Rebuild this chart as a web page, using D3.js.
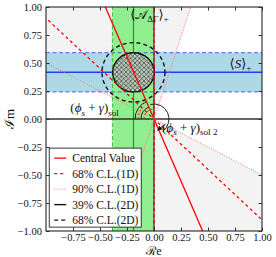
<!DOCTYPE html>
<html>
<head>
<meta charset="utf-8">
<script src="https://cdn.jsdelivr.net/npm/d3@7"></script>
<style>
  body { margin: 0; background: #fff; }
  svg text { font-family: "Liberation Serif", "DejaVu Serif", serif; fill: #111; }
</style>
</head>
<body>
<div id="chart"></div>
<script>
// values
var xTicks = [-0.75, -0.5, -0.25, 0, 0.25, 0.5, 0.75, 1];
var yTicks = [-1, -0.75, -0.5, -0.25, 0, 0.25, 0.5, 0.75, 1];
var reBand = [-0.385, -0.19, 0.0];     // lower, central, upper (A_DeltaGamma)
var imBand = [0.242, 0.417, 0.592];    // lower, central, upper (S)
var ellipseCenter = [-0.19, 0.417];
var ellipseSigma = [0.1925, 0.175];
var ellipseScale = [1.0, 1.515];       // 39% and 68% C.L. (2D)
var centralSlopes = [-2.22];
var cl68Slopes = [-0.9, null];         // null = vertical line Re = 0
var cl90Slopes = [-0.5, 2.94];
var legendLabels = ['Central Value', '68% C.L.(1D)', '90% C.L.(1D)', '39% C.L.(2D)', '68% C.L.(2D)'];

var width = 276, height = 257;
var margin = { top: 7, right: 14, bottom: 26, left: 46 };

var x = d3.scaleLinear().domain([-1, 1]).range([margin.left, width - margin.right]);
var y = d3.scaleLinear().domain([-1, 1]).range([height - margin.bottom, margin.top]);

var svg = d3.select('#chart').append('svg')
  .attr('width', width)
  .attr('height', height);

var defs = svg.append('defs');
defs.append('clipPath').attr('id', 'plot-area')
  .append('rect')
  .attr('x', x(-1)).attr('y', y(1))
  .attr('width', x(1) - x(-1)).attr('height', y(-1) - y(1));

var hatch = defs.append('pattern')
  .attr('id', 'xhatch')
  .attr('patternUnits', 'userSpaceOnUse')
  .attr('width', 4.5).attr('height', 4.5);
hatch.append('rect').attr('width', 4.5).attr('height', 4.5).attr('fill', '#b9c9b9');
hatch.append('path').attr('d', 'M0,0L4.5,4.5M4.5,0L0,4.5')
  .attr('stroke', '#222').attr('stroke-width', 0.6);

var plot = svg.append('g').attr('clip-path', 'url(#plot-area)');

// line through the origin with a given slope, long enough to be clipped
function lineEnds(slope) {
  if (slope === null) return [[0, -5], [0, 5]];
  var ext = Math.min(5, 5 / Math.abs(slope));
  return [[-ext, -ext * slope], [ext, ext * slope]];
}
function drawLine(g, slope) {
  var p = lineEnds(slope);
  return g.append('line')
    .attr('x1', x(p[0][0])).attr('y1', y(p[0][1]))
    .attr('x2', x(p[1][0])).attr('y2', y(p[1][1]));
}

// grey 90% regions (two opposite wedges between the 90% lines)
var a = lineEnds(cl90Slopes[0]);
var b = lineEnds(cl90Slopes[1]);
var wedges = [
  [[0, 0], a[0], [a[0][0], 5], [b[1][0], 5], b[1]],
  [[0, 0], a[1], [a[1][0], -5], [b[0][0], -5], b[0]]
];
plot.selectAll('path.wedge').data(wedges).enter().append('path')
  .attr('class', 'wedge')
  .attr('d', function (d) { return 'M' + d.map(function (p) { return x(p[0]) + ',' + y(p[1]); }).join('L') + 'Z'; })
  .attr('fill', '#f3f3f3');

// S band (blue) and A_DeltaGamma band (green)
plot.append('rect')
  .attr('x', x(-1)).attr('width', x(1) - x(-1))
  .attr('y', y(imBand[2])).attr('height', y(imBand[0]) - y(imBand[2]))
  .attr('fill', '#add8e6');
plot.append('rect')
  .attr('y', y(1)).attr('height', y(-1) - y(1))
  .attr('x', x(reBand[0])).attr('width', x(reBand[2]) - x(reBand[0]))
  .attr('fill', '#90ee90');

[imBand[0], imBand[2]].forEach(function (v) {
  plot.append('line').attr('x1', x(-1)).attr('x2', x(1)).attr('y1', y(v)).attr('y2', y(v))
    .attr('stroke', '#4a5ff0').attr('stroke-width', 1).attr('stroke-dasharray', '4,2.5');
});
plot.append('line').attr('x1', x(-1)).attr('x2', x(1)).attr('y1', y(imBand[1])).attr('y2', y(imBand[1]))
  .attr('stroke', '#1f3ff0').attr('stroke-width', 1.6);
[reBand[0], reBand[2]].forEach(function (v) {
  plot.append('line').attr('y1', y(-1)).attr('y2', y(1)).attr('x1', x(v)).attr('x2', x(v))
    .attr('stroke', '#3fb83f').attr('stroke-width', 1).attr('stroke-dasharray', '4,2.5');
});
plot.append('line').attr('y1', y(-1)).attr('y2', y(1)).attr('x1', x(reBand[1])).attr('x2', x(reBand[1]))
  .attr('stroke', '#1e9a1e').attr('stroke-width', 1.2);

// zero lines
plot.append('line').attr('x1', x(-1)).attr('x2', x(1)).attr('y1', y(0)).attr('y2', y(0))
  .attr('stroke', '#333').attr('stroke-width', 1.4);
plot.append('line').attr('y1', y(-1)).attr('y2', y(1)).attr('x1', x(0)).attr('x2', x(0))
  .attr('stroke', '#333').attr('stroke-width', 1.2);

// 2D ellipses
plot.selectAll('ellipse').data(ellipseScale).enter().append('ellipse')
  .attr('cx', x(ellipseCenter[0])).attr('cy', y(ellipseCenter[1]))
  .attr('rx', function (k) { return x(ellipseSigma[0] * k) - x(0); })
  .attr('ry', function (k) { return y(0) - y(ellipseSigma[1] * k); })
  .attr('fill', function (k, i) { return i === 0 ? 'url(#xhatch)' : 'none'; })
  .attr('stroke', '#111')
  .attr('stroke-width', 1.4)
  .attr('stroke-dasharray', function (k, i) { return i === 0 ? null : '4,3'; });

// 1D lines
var red = plot.append('g').attr('fill', 'none');
centralSlopes.forEach(function (s) {
  drawLine(red, s).attr('stroke', '#f00').attr('stroke-width', 1.3);
});
cl68Slopes.forEach(function (s) {
  drawLine(red, s).attr('stroke', '#f00').attr('stroke-width', 1.3).attr('stroke-dasharray', '3,3');
});
cl90Slopes.forEach(function (s) {
  drawLine(red, s).attr('stroke', '#ff7070').attr('stroke-width', 1).attr('stroke-dasharray', '1,1.5');
});

// angle arcs at the origin
function pixAngle(slope) {
  if (slope === null) return -Math.PI / 2;
  return Math.atan2(y(slope) - y(0), x(1) - x(0));
}
function arcPath(r, a0, a1) {
  var cx = x(0), cy = y(0);
  var large = Math.abs(a1 - a0) > Math.PI ? 1 : 0;
  var sweep = a1 > a0 ? 1 : 0;
  return 'M' + (cx + r * Math.cos(a0)) + ',' + (cy + r * Math.sin(a0)) +
    'A' + r + ',' + r + ' 0 ' + large + ' ' + sweep + ' ' +
    (cx + r * Math.cos(a1)) + ',' + (cy + r * Math.sin(a1));
}
var arcs = plot.append('g').attr('fill', 'none');
var leftDir = -Math.PI;
var upCentral = pixAngle(centralSlopes[0]) - Math.PI;
arcs.append('path').attr('d', arcPath(19, leftDir, upCentral)).attr('stroke', '#222').attr('stroke-width', 1);
arcs.append('path').attr('d', arcPath(13, leftDir, upCentral)).attr('stroke', '#222').attr('stroke-width', 1);
arcs.append('path').attr('d', arcPath(16, leftDir, pixAngle(cl68Slopes[0]) - Math.PI))
  .attr('stroke', '#f00').attr('stroke-width', 1).attr('stroke-dasharray', '2,2');
arcs.append('path').attr('d', arcPath(10, leftDir, -Math.PI / 2))
  .attr('stroke', '#f00').attr('stroke-width', 1).attr('stroke-dasharray', '2,2');
arcs.append('path').attr('d', arcPath(15, -Math.PI * 0.58, Math.PI * 0.3))
  .attr('stroke', '#222').attr('stroke-width', 1);

// annotation arrow for solution 2
svg.append('defs').append('marker').attr('id', 'arrow')
  .attr('viewBox', '0 0 6 6').attr('refX', 5).attr('refY', 3)
  .attr('markerWidth', 5).attr('markerHeight', 5).attr('orient', 'auto')
  .append('path').attr('d', 'M0,0L6,3L0,6Z').attr('fill', '#111');
svg.append('line')
  .attr('x1', x(0.09)).attr('y1', y(-0.055))
  .attr('x2', x(0.035)).attr('y2', y(-0.1))
  .attr('stroke', '#111').attr('stroke-width', 1).attr('marker-end', 'url(#arrow)');

// text labels
function mathLabel(px, py, parts, size) {
  var t = svg.append('text').attr('x', px).attr('y', py).attr('font-size', size);
  parts.forEach(function (p) {
    var s = t.append('tspan').text(p.t);
    if (p.i) s.attr('font-style', 'italic');
    if (p.sub) s.attr('font-size', size * 0.7).attr('dy', size * 0.25);
    if (p.up) s.attr('dy', -size * 0.25);
    if (p.f) s.attr('font-family', p.f);
  });
  return t;
}
mathLabel(x(-0.22), y(0.895), [
  { t: '\u27E8', f: 'DejaVu Serif' }, { t: '\uD835\uDC9C', f: 'DejaVu Sans' },
  { t: '\u0394\u0393', sub: true }, { t: '\u27E9', up: true, f: 'DejaVu Serif' }, { t: '+', sub: true }
], 13).attr('fill', '#222');
mathLabel(x(0.7), y(0.455), [
  { t: '\u27E8', f: 'DejaVu Serif' }, { t: 'S', i: true }, { t: '\u27E9', f: 'DejaVu Serif' }, { t: '+', sub: true }
], 13).attr('fill', '#222');
mathLabel(x(-0.775), y(0.06), [
  { t: '(' }, { t: '\u03D5', i: true }, { t: 's', i: true, sub: true }, { t: ' + ', up: true },
  { t: '\u03B3', i: true }, { t: ')' }, { t: 'sol', sub: true }
], 13).attr('fill', '#333');
mathLabel(x(0.075), y(-0.115), [
  { t: '(' }, { t: '\u03D5', i: true }, { t: 's', i: true, sub: true }, { t: ' + ', up: true },
  { t: '\u03B3', i: true }, { t: ')' }, { t: 'sol 2', sub: true }
], 13).attr('fill', '#333');

// legend
var legend = svg.append('g').attr('transform', 'translate(' + x(-0.97) + ',' + y(-0.26) + ')');
legend.append('rect').attr('width', 92).attr('height', 79)
  .attr('fill', '#fff').attr('fill-opacity', 0.95).attr('stroke', '#222').attr('stroke-width', 0.9);
var legendStyles = [
  { c: '#f00', d: null, w: 1.3 },
  { c: '#f00', d: '3,3', w: 1.3 },
  { c: '#ff7070', d: '1,1.5', w: 1 },
  { c: '#111', d: null, w: 1.4 },
  { c: '#111', d: '4,3', w: 1.4 }
];
legendLabels.forEach(function (lab, i) {
  var row = legend.append('g').attr('transform', 'translate(0,' + (10 + i * 15.5) + ')');
  row.append('line').attr('x1', 5).attr('x2', 17).attr('y1', 0).attr('y2', 0)
    .attr('stroke', legendStyles[i].c).attr('stroke-width', legendStyles[i].w)
    .attr('stroke-dasharray', legendStyles[i].d);
  row.append('text').attr('x', 23).attr('y', 4).attr('font-size', 11.5).text(lab);
});

// frame, ticks and tick labels
svg.append('rect')
  .attr('x', x(-1)).attr('y', y(1))
  .attr('width', x(1) - x(-1)).attr('height', y(-1) - y(1))
  .attr('fill', 'none').attr('stroke', '#111').attr('stroke-width', 1);

var fmt = function (d) { return d3.format('.2f')(d).replace('-', '\u2212'); };
var xAxis = svg.append('g').attr('transform', 'translate(0,' + y(-1) + ')')
  .call(d3.axisBottom(x).tickValues(xTicks).tickSize(-3.5).tickPadding(3).tickFormat(fmt));
var yAxis = svg.append('g').attr('transform', 'translate(' + x(-1) + ',0)')
  .call(d3.axisLeft(y).tickValues(yTicks).tickSize(-3.5).tickPadding(4).tickFormat(fmt));
var yAxisR = svg.append('g').attr('transform', 'translate(' + x(1) + ',0)')
  .call(d3.axisRight(y).tickValues(yTicks).tickSize(-3.5).tickFormat(''));
var xAxisT = svg.append('g').attr('transform', 'translate(0,' + y(1) + ')')
  .call(d3.axisTop(x).tickValues(xTicks).tickSize(-3.5).tickFormat(''));
[xAxis, yAxis, yAxisR, xAxisT].forEach(function (g) {
  g.select('.domain').remove();
  g.selectAll('text').attr('font-family', '"Liberation Serif", serif').attr('font-size', 10.5).attr('fill', '#222');
  g.selectAll('line').attr('stroke', '#333');
});

// axis titles
svg.append('text').attr('x', x(0)).attr('y', height - 2).attr('text-anchor', 'middle')
  .attr('font-size', 12).attr('font-family', 'DejaVu Sans').text('\u211Be');
svg.append('text').attr('transform', 'translate(14,' + y(0) + ') rotate(-90)').attr('text-anchor', 'middle')
  .attr('font-size', 13).attr('font-family', 'DejaVu Sans').text('\u2110m');
</script>
</body>
</html>
